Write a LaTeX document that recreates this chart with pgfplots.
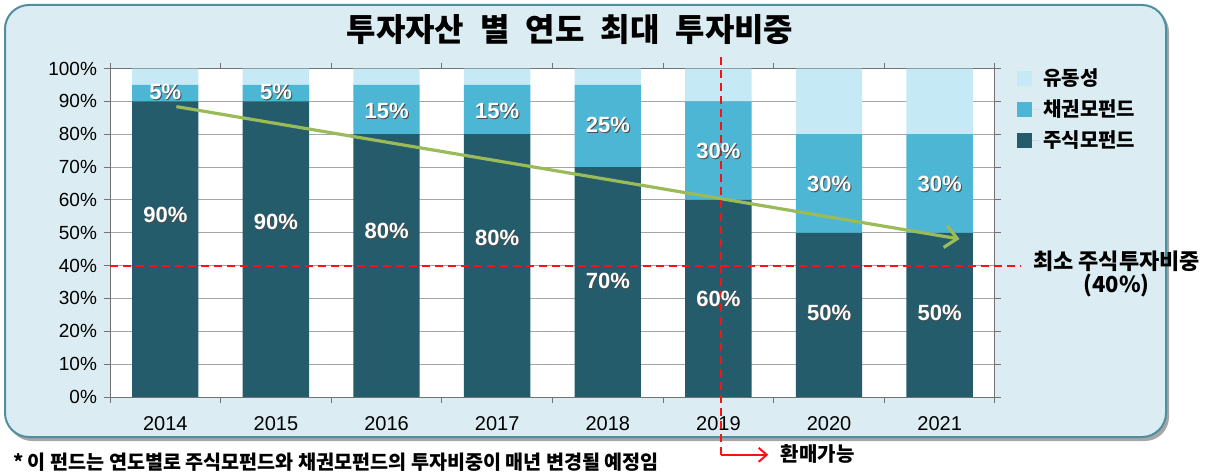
\documentclass[border=0pt]{standalone}
\usepackage{fontspec}
\setmainfont{Liberation Sans}
\newfontfamily\kr{Noto Sans CJK KR}
\usepackage{pgfplots}
\pgfplotsset{compat=1.18}
\usetikzlibrary{arrows.meta}
\definecolor{stock}{HTML}{245C6B}
\definecolor{bond}{HTML}{4DB6D4}
\definecolor{liq}{HTML}{C6EAF5}
\definecolor{boxfill}{HTML}{DBEDF3}
\definecolor{boxline}{HTML}{4F8E9F}
\definecolor{agreen}{HTML}{9BBB59}
\definecolor{dred}{HTML}{FF1010}
\begin{document}
\begin{tikzpicture}
\useasboundingbox (0,0) rectangle (606pt,236pt);
\begin{scope}[x=0.5pt,y=0.5pt]
\fill[black!35, rounded corners=12pt] (8,31) rectangle (1169,464);
\draw[line width=1pt, draw=boxline, fill=boxfill, rounded corners=12pt] (5,35) rectangle (1166,467);
\node[font=\kr\bfseries\fontsize{16}{19}\selectfont] at (570,442) {투자자산\hspace{0.5em}별\hspace{0.5em}연도\hspace{0.5em}최대\hspace{0.5em}투자비중};
\node[anchor=west, font=\kr\bfseries\fontsize{9.8}{12}\selectfont] at (6,10) {* 이 펀드는 연도별로 주식모펀드와 채권모펀드의 투자비중이 매년 변경될 예정임};
\end{scope}
\begin{axis}[
  at={(55pt,37.5pt)}, anchor=south west,
  scale only axis, width=442.5pt, height=164.25pt,
  ybar stacked, bar width=0.6,
  xmin=-0.5, xmax=7.5, ymin=0, ymax=100,
  xtick={0,...,7}, xticklabels={2014,2015,2016,2017,2018,2019,2020,2021},
  minor xtick={-0.5,0.5,...,7.5},
  major x tick style={draw=none},
  minor x tick style={black!55, line width=0.5pt},
  ytick={0,10,...,100},
  yticklabels={0\%,10\%,20\%,30\%,40\%,50\%,60\%,70\%,80\%,90\%,100\%},
  tick align=outside, major tick length=3pt, minor tick length=3pt,
  y tick style={black!55, line width=0.5pt},
  ymajorgrids, grid style={black!35, line width=0.5pt},
  axis line style={black!55, line width=0.5pt},
  axis background/.style={fill=white},
  xticklabel style={font=\fontsize{10}{12}\selectfont, yshift=-3pt},
  yticklabel style={font=\fontsize{9.5}{11}\selectfont},
  reverse legend, legend cell align=left,
  legend style={at={(1.018,1.025)}, anchor=north west, draw=none, fill=none,
    font=\kr\bfseries\fontsize{10}{12}\selectfont, row sep=1.5pt},
  legend image code/.code={\path[#1] (0pt,-3.7pt) rectangle (7.4pt,3.7pt); \path (0pt,0pt) -- (11pt,0pt);},
]
\addplot[fill=stock, draw=none] coordinates {(0,90)(1,90)(2,80)(3,80)(4,70)(5,60)(6,50)(7,50)};
\addplot[fill=bond, draw=none] coordinates {(0,5)(1,5)(2,15)(3,15)(4,25)(5,30)(6,30)(7,30)};
\addplot[fill=liq, draw=none] coordinates {(0,5)(1,5)(2,5)(3,5)(4,5)(5,10)(6,20)(7,20)};
\legend{주식모펀드,채권모펀드,유동성}
\end{axis}
\begin{axis}[
  at={(55pt,37.5pt)}, anchor=south west,
  scale only axis, width=442.5pt, height=164.25pt,
  xmin=-0.5, xmax=7.5, ymin=0, ymax=100,
  axis lines=none, clip=false,
]
\addplot[draw=none, nodes near coords, point meta=explicit symbolic,
  nodes near coords style={text=black!70, anchor=center, xshift=0.5pt, yshift=-0.5pt, font=\bfseries\fontsize{11}{13}\selectfont}]
  coordinates {(0,55.5)[90\%] (1,53.4)[90\%] (2,50.6)[80\%] (3,48.5)[80\%] (4,35.3)[70\%] (5,30)[60\%] (6,25.5)[50\%] (7,25.5)[50\%]
  (0,93)[5\%] (1,93)[5\%] (2,87)[15\%] (3,87)[15\%] (4,82.8)[25\%] (5,74.8)[30\%] (6,65)[30\%] (7,65)[30\%]};
\addplot[draw=none, nodes near coords, point meta=explicit symbolic,
  nodes near coords style={text=white, anchor=center, font=\bfseries\fontsize{11}{13}\selectfont}]
  coordinates {(0,55.5)[90\%] (1,53.4)[90\%] (2,50.6)[80\%] (3,48.5)[80\%] (4,35.3)[70\%] (5,30)[60\%] (6,25.5)[50\%] (7,25.5)[50\%]
  (0,93)[5\%] (1,93)[5\%] (2,87)[15\%] (3,87)[15\%] (4,82.8)[25\%] (5,74.8)[30\%] (6,65)[30\%] (7,65)[30\%]};
\addplot[agreen, line width=1.6pt, -{Straight Barb[length=6pt,width=11pt,line width=1.6pt]}] coordinates {(0.1,88.4)(7.18,48.1)};
\addplot[dred, line width=1pt, dash pattern=on 4pt off 2.5pt] coordinates {(-0.5,40)(7.73,40)};
\addplot[dred, line width=1pt, dash pattern=on 4pt off 2.5pt] coordinates {(5.02,103.4)(5.02,-17.6)};
\addplot[dred, line width=1pt, -{Straight Barb[length=4pt,width=7pt]}] coordinates {(5.02,-17.6)(5.45,-17.6)};
\node[anchor=west, font=\kr\bfseries\fontsize{10}{12}\selectfont] at (axis cs:5.5,-17.4) {환매가능};
\node[align=center, font=\kr\bfseries\fontsize{11}{9.8}\selectfont] at (axis cs:8.6,37.4) {최소 주식투자비중\\(40\%)};
\end{axis}
\end{tikzpicture}
\end{document}
